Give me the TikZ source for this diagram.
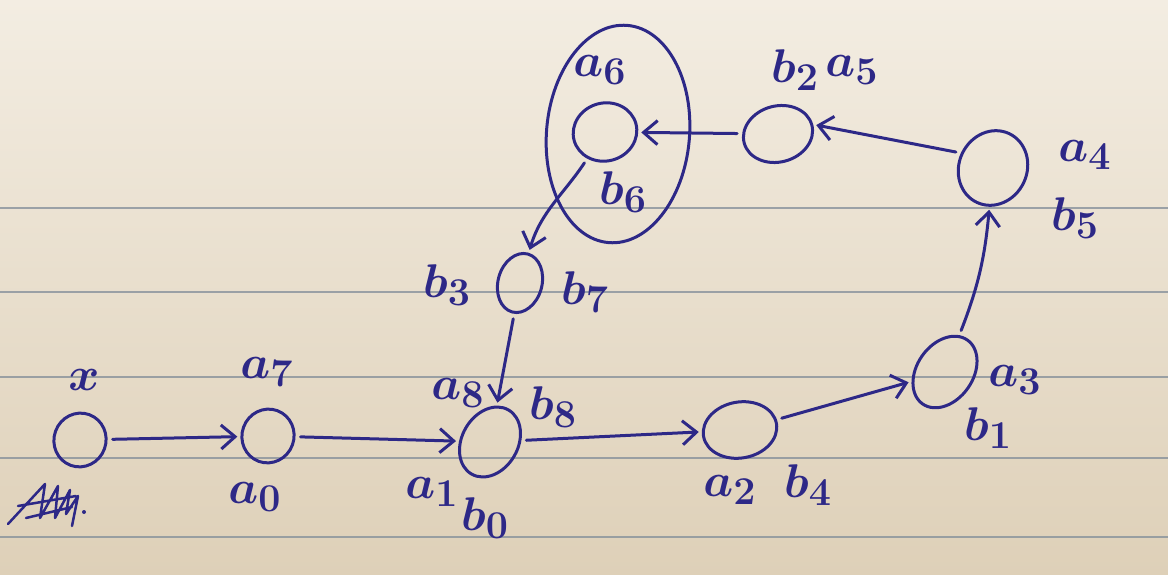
\documentclass[tikz,border=0pt]{standalone}
\usetikzlibrary{shapes.geometric,arrows.meta}
\definecolor{ink}{RGB}{45,40,135}
\definecolor{paperTop}{RGB}{243,237,226}
\definecolor{paperBot}{RGB}{222,208,184}
\definecolor{rule}{RGB}{135,145,155}
\begin{document}
\begin{tikzpicture}[x=1pt,y=-1pt,
  st/.style={ellipse, draw=ink, line width=3pt, inner sep=0pt},
  lbl/.style={text=ink, font=\Huge\boldmath, scale=1.9, inner sep=0pt},
  arr/.style={draw=ink, line width=3pt, line cap=round, -{Straight Barb[length=14pt,width=24pt,line width=3pt]}, shorten <=5pt, shorten >=3pt},
  ruled/.style={draw=rule, line width=2.5pt, opacity=0.8}]
\useasboundingbox (0,0) rectangle (1168,575);
\shade[top color=paperTop, bottom color=paperBot] (0,0) rectangle (1168,575);
\foreach \yy in {208,292,377,458,537} \draw[ruled] (0,\yy) -- (1168,\yy);
% states
\node[st, minimum width=52pt, minimum height=54pt, rotate=-20] (nx) at (80,440) {};
\node[st, minimum width=52pt, minimum height=54pt, rotate=-20] (n0) at (268,436) {};
\node[st, minimum width=56pt, minimum height=74pt, rotate=-30] (n1) at (490,442) {};
\node[st, minimum width=74pt, minimum height=56pt, rotate=10] (n2) at (740,430) {};
\node[st, minimum width=56pt, minimum height=78pt, rotate=-35] (n3) at (945,372) {};
\node[st, minimum width=68pt, minimum height=76pt, rotate=-25] (n4) at (993,168) {};
\node[st, minimum width=70pt, minimum height=56pt, rotate=15] (n5) at (778,134) {};
\node[st, minimum width=64pt, minimum height=58pt, rotate=15] (n6) at (605,132) {};
\node[st, minimum width=44pt, minimum height=60pt, rotate=-15] (n7) at (520,283) {};
\node[st, minimum width=143pt, minimum height=218pt, rotate=-5] (big) at (618,134) {};
% labels
\node[lbl] (lx) at (84,380) {$x$};
\node[lbl] (l7) at (267,372) {$a_7$};
\node[lbl] (l0) at (255,497) {$a_0$};
\node[lbl] (l8) at (458,393) {$a_8$};
\node[lbl] (lb8) at (553,407) {$b_8$};
\node[lbl] (l1) at (432,492) {$a_1$};
\node[lbl] (lb0) at (485,518) {$b_0$};
\node[lbl] (l2) at (730,490) {$a_2$};
\node[lbl] (lb4) at (808,485) {$b_4$};
\node[lbl] (l3) at (1015,380) {$a_3$};
\node[lbl] (lb1) at (988,428) {$b_1$};
\node[lbl] (l4) at (1085,155) {$a_4$};
\node[lbl] (lb5) at (1075,218) {$b_5$};
\node[lbl] (lb2) at (795,70) {$b_2$};
\node[lbl] (l5) at (852,70) {$a_5$};
\node[lbl] (l6) at (600,70) {$a_6$};
\node[lbl] (lb6) at (623,192) {$b_6$};
\node[lbl] (lb3) at (447,285) {$b_3$};
\node[lbl] (lb7) at (585,292) {$b_7$};
% transitions
\draw[arr] (nx) -- (n0);
\draw[arr] (n0) -- (n1);
\draw[arr] (n1) -- (n2);
\draw[arr] (n2) -- (n3);
\draw[arr] (n3) to[bend right=8] (n4);
\draw[arr] (n4.west) -- (n5.east);
\draw[arr] (n5) -- (n6);
\draw[arr] (n6) to[out=230,in=80] (n7);
\draw[arr] (n7) -- (n1);
% crossed-out scribble
\coordinate (s0) at (8,524);
\draw[draw=ink, line width=2.5pt, line join=round, line cap=round]
  (s0) -- (45,484) -- (40,518) -- (58,486) -- (55,518) -- (70,490) -- (66,514) -- (78,496) -- (72,526)
  (18,506) -- (76,496) (26,518) -- (72,507);
\fill[ink] (84,512) circle (2pt);
\end{tikzpicture}
\end{document}
